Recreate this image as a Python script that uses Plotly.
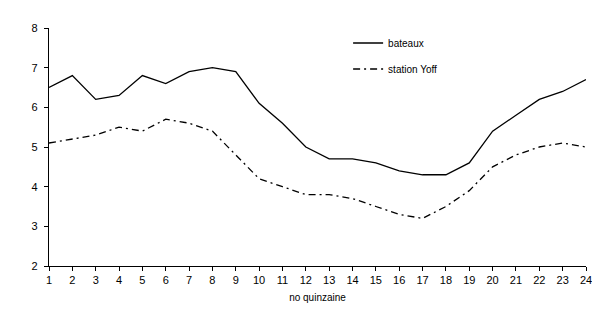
import plotly.graph_objects as go

# quinzaines 1..24
quinzaine = list(range(1, 25))
bateaux = [6.5, 6.8, 6.2, 6.3, 6.8, 6.6, 6.9, 7.0, 6.9, 6.1, 5.6, 5.0,
           4.7, 4.7, 4.6, 4.4, 4.3, 4.3, 4.6, 5.4, 5.8, 6.2, 6.4, 6.7]
station_yoff = [5.1, 5.2, 5.3, 5.5, 5.4, 5.7, 5.6, 5.4, 4.8, 4.2, 4.0, 3.8,
                3.8, 3.7, 3.5, 3.3, 3.2, 3.5, 3.9, 4.5, 4.8, 5.0, 5.1, 5.0]
y_ticks = [2, 3, 4, 5, 6, 7, 8]

FONT = "Liberation Sans, Arial, sans-serif"

fig = go.Figure()
fig.add_trace(go.Scatter(x=quinzaine, y=bateaux, mode="lines", name="bateaux",
                         legendgroup="a",
                         line=dict(color="black", width=1.3)))
fig.add_trace(go.Scatter(x=quinzaine, y=station_yoff, mode="lines", name="station Yoff",
                         legendgroup="b",
                         line=dict(color="black", width=1.3, dash="7px,4px,2px,4px")))

fig.update_layout(
    width=600, height=309,
    margin=dict(l=41, r=22, t=20, b=51),
    paper_bgcolor="white", plot_bgcolor="white",
    font=dict(family=FONT, size=11, color="black"),
    showlegend=True,
    legend=dict(x=0.557, y=0.998, xanchor="left", yanchor="top",
                bgcolor="rgba(0,0,0,0)", tracegroupgap=7,
                font=dict(size=10, color="black")),
)
fig.update_xaxes(range=[1, 24], tickvals=quinzaine, showgrid=False, zeroline=False,
                 showline=True, linecolor="black", linewidth=1.3,
                 ticks="outside", ticklen=4, tickcolor="black",
                 title=dict(text="no quinzaine", font=dict(size=10), standoff=8),
                 tickfont=dict(size=11))
fig.update_yaxes(range=[2, 8], tickvals=y_ticks, showgrid=False, zeroline=False,
                 showline=True, linecolor="black", linewidth=1.3,
                 ticks="outside", ticklen=4, tickcolor="black",
                 ticklabelstandoff=4, tickfont=dict(size=11))

fig.write_html("out.html")
